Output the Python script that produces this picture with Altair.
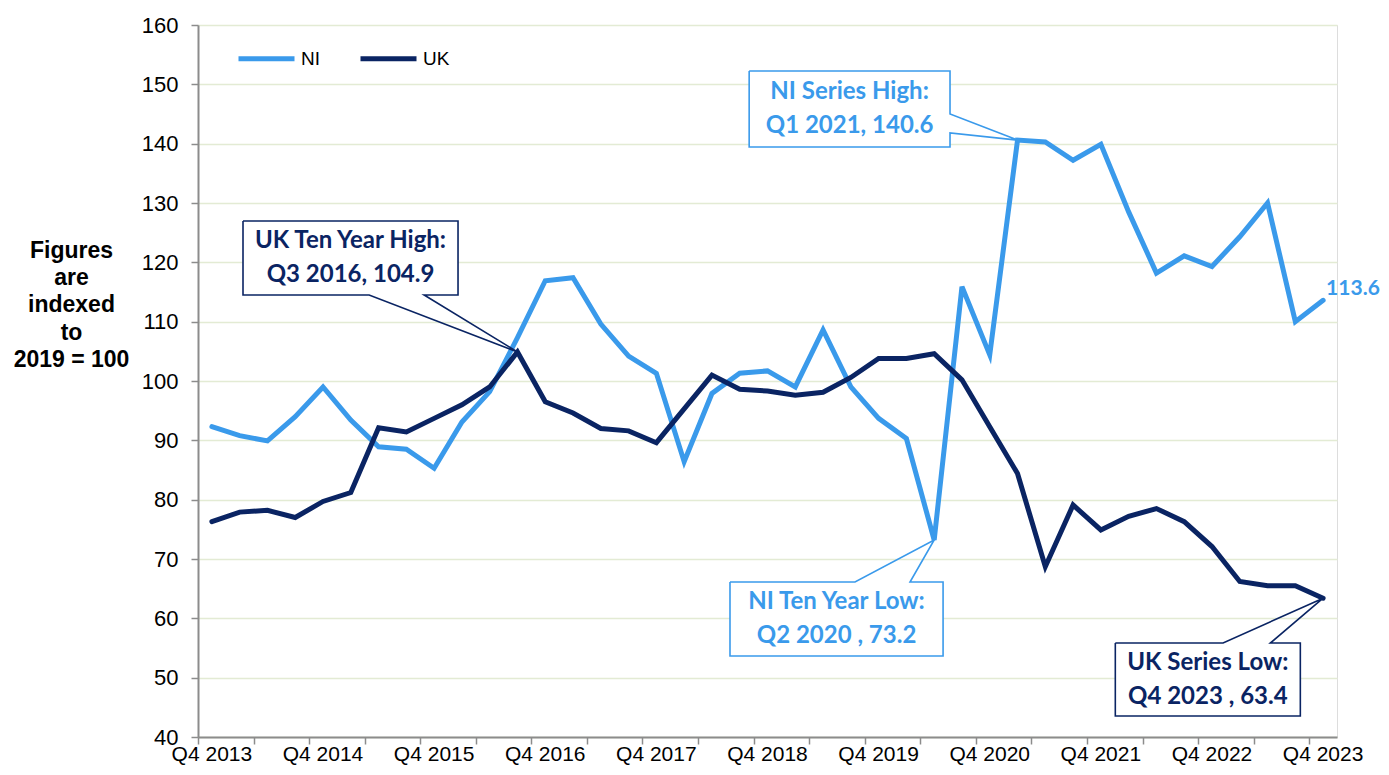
import altair as alt
import pandas as pd

# ---------------- data ----------------
quarters = []
for yr in range(2013, 2024):
    for q in ["Q1", "Q2", "Q3", "Q4"]:
        quarters.append(f"{q} {yr}")
quarters = quarters[3:]  # Q4 2013 ... Q4 2023 (41 quarters)

tick_labels = ["Q4 2013", "Q4 2014", "Q4 2015", "Q4 2016", "Q4 2017", "Q4 2018",
               "Q4 2019", "Q4 2020", "Q4 2021", "Q4 2022", "Q4 2023"]

ni_values = [92.3, 90.8, 89.9, 94.0, 99.0, 93.4, 88.9, 88.5, 85.3, 93.1,
             98.2, 107.3, 116.9, 117.4, 109.6, 104.2, 101.3, 86.4, 97.9, 101.3,
             101.7, 99.0, 108.6, 99.0, 93.7, 90.3, 73.2, 115.9, 104.4, 140.6,
             140.3, 137.2, 139.9, 128.5, 118.2, 121.1, 119.3, 124.3, 130.0, 110.0,
             113.6]
uk_values = [76.3, 77.9, 78.2, 77.0, 79.7, 81.2, 92.1, 91.4, 93.7, 96.0,
             99.0, 104.9, 96.5, 94.6, 92.0, 91.6, 89.6, 95.3, 101.0, 98.6,
             98.3, 97.6, 98.1, 100.6, 103.8, 103.8, 104.6, 100.2, 92.3, 84.4,
             68.7, 79.1, 74.9, 77.2, 78.5, 76.3, 72.1, 66.2, 65.5, 65.5,
             63.4]

series_names = ["NI", "UK"]
NI_C = "#3A9AEB"
UK_C = "#0A2463"
GRID_C = "#E3EBD4"
AXIS_C = "#8C8C8C"

# callouts: box bounds (in axis units), wedge side and its base points, tip (quarter index, value)
callout_ids = ["uk_high", "ni_high", "ni_low", "uk_low"]
callout_line1 = ["UK Ten Year High:", "NI Series High:", "NI Ten Year Low:", "UK Series Low:"]
callout_line2 = ["Q3 2016, 104.9", "Q1 2021, 140.6", "Q2 2020 , 73.2", "Q4 2023 , 63.4"]
callout_series = ["UK", "NI", "NI", "UK"]
callout_tip_idx = [11, 29, 26, 40]
callout_x0 = [1.12, 19.34, 18.65, 32.52]
callout_x1 = [8.86, 26.57, 26.32, 39.18]
callout_ytop = [126.96, 152.25, 66.12, 55.84]
callout_ybot = [114.49, 139.44, 53.65, 43.53]
callout_side = ["bottom", "right", "top", "top"]
callout_base_a = [5.66, 145.0, 23.15, 36.40]
callout_base_b = [7.64, 141.8, 25.13, 38.10]

# ---------------- frames ----------------
rows = []
for name, vals in zip(series_names, [ni_values, uk_values]):
    for i, v in enumerate(vals):
        rows.append({"idx": i, "quarter": quarters[i], "series": name, "value": v})
df = pd.DataFrame(rows)

tick_df = pd.DataFrame({"idx": [quarters.index(t) for t in tick_labels], "label": tick_labels})

values_of = {"NI": ni_values, "UK": uk_values}
outline_rows, box_rows = [], []
for k, cid in enumerate(callout_ids):
    x0, x1, yt, yb = callout_x0[k], callout_x1[k], callout_ytop[k], callout_ybot[k]
    a, b = callout_base_a[k], callout_base_b[k]
    ti = callout_tip_idx[k]
    tip = (ti, values_of[callout_series[k]][ti])
    if callout_side[k] == "top":
        pts = [(x0, yt), (a, yt), tip, (b, yt), (x1, yt), (x1, yb), (x0, yb), (x0, yt)]
    elif callout_side[k] == "bottom":
        pts = [(x0, yt), (x1, yt), (x1, yb), (b, yb), tip, (a, yb), (x0, yb), (x0, yt)]
    else:
        pts = [(x0, yt), (x1, yt), (x1, a), tip, (x1, b), (x1, yb), (x0, yb), (x0, yt)]
    for o, (px, py) in enumerate(pts):
        outline_rows.append({"id": cid, "series": callout_series[k], "ord": o, "x": px, "y": py})
    box_rows.append({"id": cid, "series": callout_series[k], "x0": x0, "x1": x1, "yt": yt, "yb": yb,
                     "cx": (x0 + x1) / 2, "cy": (yt + yb) / 2,
                     "l1": callout_line1[k], "l2": callout_line2[k]})
outline_df = pd.DataFrame(outline_rows)
box_df = pd.DataFrame(box_rows)
last_df = pd.DataFrame([{"idx": len(ni_values) - 1, "value": ni_values[-1],
                         "label": f"{ni_values[-1]:.1f}"}])

# ---------------- scales / axes ----------------
n = len(quarters)
x_scale = alt.Scale(domain=[-0.5, n - 0.5], nice=False, zero=False)
y_scale = alt.Scale(domain=[40, 160], nice=False, zero=False)

x_axis = alt.Axis(
    values=[i - 0.5 for i in range(n + 1)], title=None, grid=False, labels=False,
    tickSize=7, tickColor=AXIS_C, tickWidth=1.5,
    domainColor=AXIS_C, domainWidth=2,
)
y_axis = alt.Axis(
    values=list(range(40, 161, 10)), grid=True, gridColor=GRID_C, gridWidth=1.5,
    labelFont="Liberation Sans", labelFontSize=22, labelColor="#000000", labelPadding=13,
    tickSize=7, tickColor=AXIS_C, tickWidth=1.5, domainColor=AXIS_C, domainWidth=2,
    title=["Figures", "are", "indexed", "to", "2019 = 100"],
    titleAngle=0, titleX=-127, titleY=232, titleAlign="center", titleBaseline="alphabetic",
    titleFont="Liberation Sans", titleFontSize=23, titleFontWeight="bold", titleColor="#000000",
    titleLineHeight=27.4,
)

X = alt.X("idx:Q", scale=x_scale, axis=x_axis)
Y = alt.Y("value:Q", scale=y_scale, axis=y_axis)

lines = alt.Chart(df).mark_line(strokeWidth=5, strokeCap="round").encode(
    x=X, y=Y,
    color=alt.Color("series:N", scale=alt.Scale(domain=series_names, range=[NI_C, UK_C]),
                    legend=alt.Legend(orient="none", legendX=38, legendY=3, direction="horizontal",
                                      title=None, symbolType="stroke", symbolSize=3136,
                                      symbolStrokeWidth=5, labelFont="Liberation Sans",
                                      labelFontSize=19, labelColor="#000000", labelOffset=4,
                                      columnPadding=30)),
    order="idx:Q",
)

x_labels = alt.Chart(tick_df).mark_text(
    font="Liberation Sans", fontSize=21, color="#000000", baseline="alphabetic", align="center"
).encode(x=alt.X("idx:Q", scale=x_scale), y=alt.value(736), text="label:N")

boxes = alt.Chart(box_df).mark_rect(fill="white", stroke=None).encode(
    x=alt.X("x0:Q", scale=x_scale), x2="x1:Q",
    y=alt.Y("yt:Q", scale=y_scale), y2="yb:Q",
)

def outline(series, col):
    return alt.Chart(outline_df[outline_df.series == series]).mark_line(
        color=col, strokeWidth=1.6, strokeJoin="miter").encode(
        x=alt.X("x:Q", scale=x_scale), y=alt.Y("y:Q", scale=y_scale),
        detail="id:N", order="ord:Q")

def texts(series, col, field, dy):
    return alt.Chart(box_df[box_df.series == series]).mark_text(
        color=col, font="Lato", fontSize=24, fontWeight="bold", dy=dy, baseline="middle").encode(
        x=alt.X("cx:Q", scale=x_scale), y=alt.Y("cy:Q", scale=y_scale), text=f"{field}:N")

end_label = alt.Chart(last_df).mark_text(
    color=NI_C, font="Lato", fontSize=21, fontWeight="bold", align="left", baseline="middle",
    dx=3, dy=-11).encode(
    x=alt.X("idx:Q", scale=x_scale), y=alt.Y("value:Q", scale=y_scale), text="label:N")

chart = alt.layer(
    boxes, lines,
    outline("NI", NI_C), outline("UK", UK_C),
    texts("NI", NI_C, "l1", -17), texts("NI", NI_C, "l2", 17),
    texts("UK", UK_C, "l1", -17), texts("UK", UK_C, "l2", 17),
    end_label, x_labels,
).properties(
    width=1139, height=712,
    padding={"left": 190, "top": 17, "right": 44, "bottom": 30},
    autosize=alt.AutoSizeParams(type="none"),
).configure_view(stroke=None).configure(background="white")

chart.save("out.html", embed_options={"renderer": "svg", "actions": False})
